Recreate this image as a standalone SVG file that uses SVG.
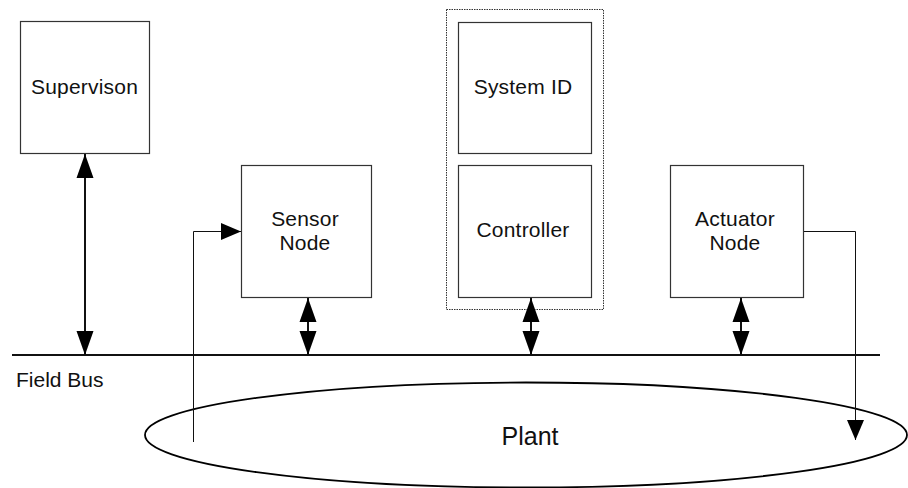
<svg xmlns="http://www.w3.org/2000/svg" width="908" height="488" viewBox="0 0 908 488">
  <style>
    .box { fill: #fff; stroke: #333; stroke-width: 1.2; }
    .group { fill: none; stroke: #333; stroke-width: 1; stroke-dasharray: 1.5 1; }
    .label { font-family: "Liberation Sans", Arial, sans-serif; font-size: 21px; letter-spacing: 0.2px; fill: #111; text-anchor: middle; }
    .bus { stroke: #111; stroke-width: 2; fill: none; }
    .link { stroke: #111; stroke-width: 2; fill: none; marker-start: url(#busHead); marker-end: url(#busHead); }
    .signal { stroke: #111; stroke-width: 1; fill: none; marker-end: url(#sigHead); }
  </style>
  <defs>
    <marker id="busHead" markerUnits="userSpaceOnUse" markerWidth="24" markerHeight="18" refX="24" refY="9" orient="auto-start-reverse">
      <path d="M0,0.5 L24,9 L0,17.5 Z" fill="#000"/>
    </marker>
    <marker id="sigHead" markerUnits="userSpaceOnUse" markerWidth="20" markerHeight="18" refX="20" refY="9" orient="auto">
      <path d="M0,0.5 L20,9 L0,17.5 Z" fill="#000"/>
    </marker>
  </defs>

  <g id="supervision">
    <rect class="box" x="20.5" y="21.5" width="129" height="132"/>
    <text class="label" x="84.5" y="94">Supervison</text>
  </g>

  <g id="sensor-node">
    <rect class="box" x="241.5" y="165.5" width="130" height="132"/>
    <text class="label" x="305" y="226">Sensor</text>
    <text class="label" x="305" y="250">Node</text>
  </g>

  <g id="controller-unit">
    <rect class="group" x="446.5" y="9.5" width="157" height="300"/>
    <g id="system-id">
      <rect class="box" x="458.5" y="22.5" width="133" height="131"/>
      <text class="label" x="523" y="94">System ID</text>
    </g>
    <g id="controller">
      <rect class="box" x="458.5" y="165.5" width="133" height="132"/>
      <text class="label" x="523" y="237">Controller</text>
    </g>
  </g>

  <g id="actuator-node">
    <rect class="box" x="670.5" y="165.5" width="133" height="132"/>
    <text class="label" x="735" y="226">Actuator</text>
    <text class="label" x="735" y="250">Node</text>
  </g>

  <g id="field-bus">
    <line class="bus" x1="12" y1="355" x2="880" y2="355"/>
    <text x="16" y="387" font-family="'Liberation Sans', Arial, sans-serif" font-size="21" fill="#111">Field Bus</text>
  </g>

  <g id="plant">
    <ellipse cx="526" cy="435" rx="381" ry="52.5" fill="none" stroke="#000" stroke-width="1.8"/>
    <text x="530" y="445" font-family="'Liberation Sans', Arial, sans-serif" font-size="25" fill="#111" text-anchor="middle">Plant</text>
  </g>

  <g id="connectors">
    <line class="link" x1="85" y1="154" x2="85" y2="355"/>
    <line class="link" x1="308" y1="298" x2="308" y2="355"/>
    <line class="link" x1="531" y1="298" x2="531" y2="355"/>
    <line class="link" x1="741" y1="298" x2="741" y2="355"/>
    <polyline class="signal" points="193.5,442 193.5,231.5 241,231.5"/>
    <polyline class="signal" points="804,231.5 855.5,231.5 855.5,440"/>
  </g>
</svg>
